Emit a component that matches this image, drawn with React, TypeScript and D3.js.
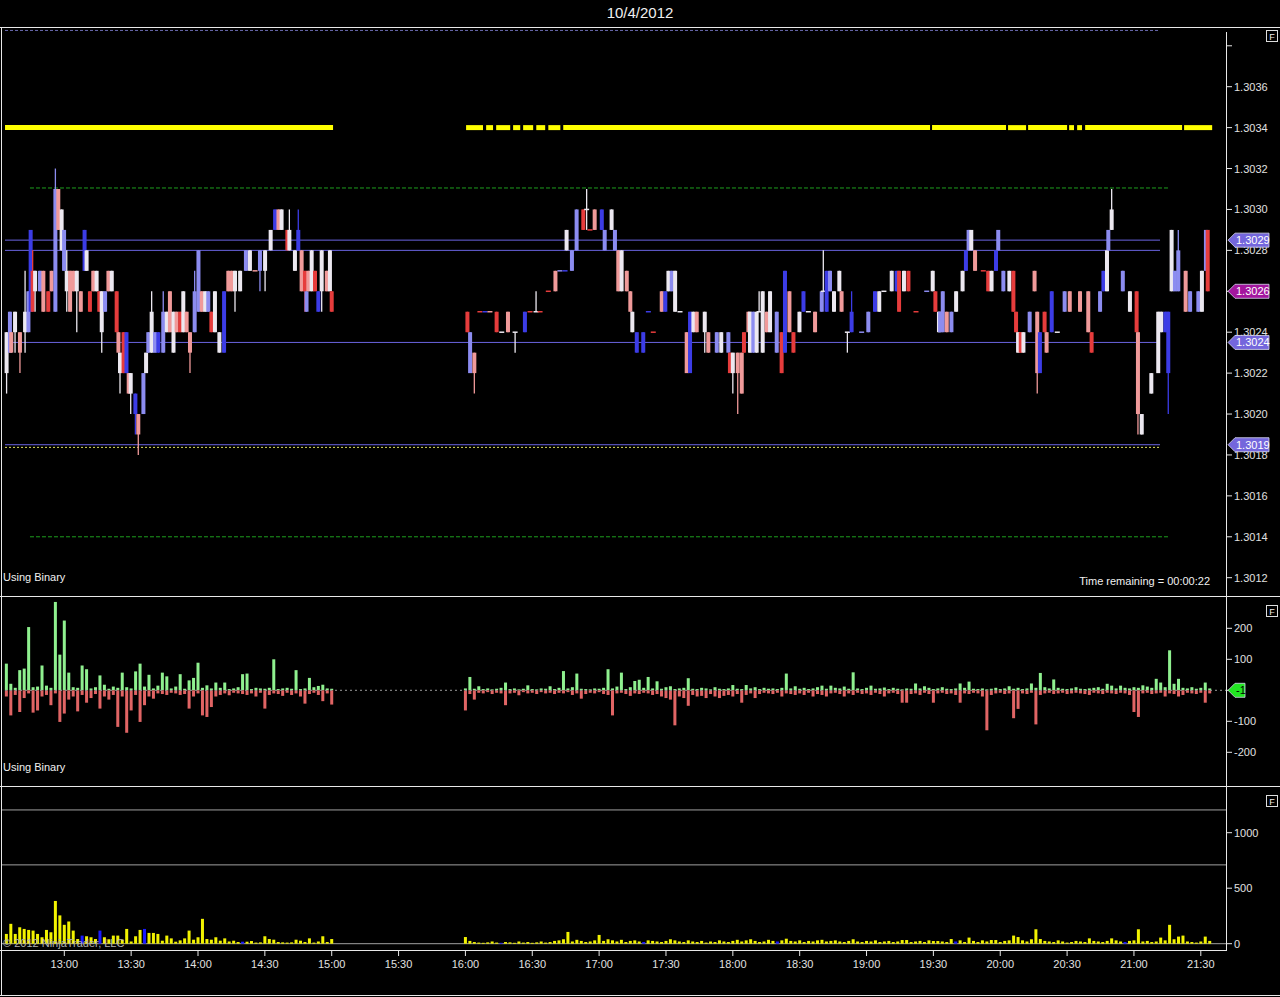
import React from "react";
import * as d3 from "d3";

// ---------- DATA ----------
// time in minutes after 12:00; prices in pips above 1.3000
const timeTickLabels = ["13:00","13:30","14:00","14:30","15:00","15:30","16:00","16:30","17:00","17:30","18:00","18:30","19:00","19:30","20:00","20:30","21:00","21:30"];
const priceTicks = [12, 14, 16, 18, 20, 22, 24, 26, 28, 30, 32, 34, 36];
const deltaTicks = [200, 100, -100, -200];
const volumeTicks = [1000, 500, 0];

// [time, bodyTop, bodyBottom, high, low, tone(-2 blue .. 2 red)]
const leftBars: number[][] = [
  [34.1,24,22,24,21,0],[35.6,25,23,25,23,-1],[36.2,24,23,24,23,1],[37.9,25,24,25,23,0],[40.1,24,23,24,22,1],
  [42.4,25,24,27,23,0],[43.9,26,24,26,24,-1],[44.9,29,25,29,25,-2],[45.8,27,25,28,25,2],[46.9,27,26,27,25,0],
  [49.1,27,26,27,26,-1],[50.6,27,25,27,25,1],[52.8,26,25,26,25,2],[54.3,27,26,27,26,1],[56.0,31,25,32,25,-1],
  [57.3,31,29,31,29,1],[58.8,30,28,30,28,0],[59.9,29,27,29,27,-1],[61.1,27,26,28,25,0],[62.6,27,25,27,25,1],
  [64.1,27,26,27,26,1],[65.6,27,26,27,24,0],[67.4,26,25,26,25,1],[69.1,29,27,29,27,-2],[70.0,28,27,28,27,0],
  [71.5,26,25,26,25,2],[73.0,27,26,27,26,1],[74.5,27,26,27,26,0],[75.7,26,25,26,25,2],[76.8,26,24,26,23,0],
  [78.3,26,25,26,25,-1],[79.8,27,26,27,26,1],[81.3,27,26,27,26,0],[83.5,26,24,26,24,2],[84.3,24,23,24,23,1],
  [85.0,23,22,23,21,0],[86.6,24,22,24,22,2],[87.9,24,22,24,22,-2],[88.9,22,21,22,21,1],[89.8,22,21,22,20,0],
  [91.9,21,20,21,19,-2],[93.2,20,19,20,18,1],[95.5,22,20,22,20,-1],[96.7,23,22,23,22,0],[97.7,24,23,24,23,-1],
  [99.2,25,23,26,23,0],[100.7,24,23,24,23,-1],[102.2,24,23,24,23,-2],[104.4,25,23,26,23,-1],[106.0,25,24,25,24,0],
  [107.4,26,24,26,24,1],[109.0,25,23,25,23,0],[110.4,25,24,25,24,1],[112.0,25,24,25,24,2],[113.4,26,24,26,24,0],
  [114.9,25,24,25,24,1],[116.4,24,23,24,22,1],[118.5,26,24,27,24,-1],[120.2,28,25,28,25,-1],[121.7,26,25,26,25,1],
  [123.2,26,25,26,25,0],[124.6,26,25,26,25,-1],[126.0,25,24,25,24,2],[127.6,26,24,26,24,0],[129.6,24,23,24,23,0],
  [131.7,26,23,26,23,-2],[133.6,27,26,27,26,1],[135.1,27,26,27,26,1],[136.6,27,26,27,25,0],[138.9,27,26,27,26,0],
  [141.5,28,27,28,27,-1],[143.3,28,27,28,27,0],[145.6,27,27,27,27,1],[147.8,28,27,28,26,-1],[150.1,28,27,28,26,0],
  [152.6,29,28,29,28,0],[154.6,30,29,30,29,-2],[156.1,30,29,30,29,1],[157.5,30,29,30,29,0],[160.1,29,28,29,28,2],
  [161.0,29,28,30,28,0],[163.5,28,27,28,27,0],[165.0,29,28,30,28,-2],[166.5,28,26,28,26,1],[168.0,27,26,27,25,2],
  [168.7,26,25,26,25,-1],[169.5,27,26,27,26,1],[171.0,28,26,28,26,0],[172.5,27,26,27,26,2],[174.0,26,25,26,25,-2],
  [175.5,28,26,28,25,0],[177.8,27,26,27,26,1],[179.2,28,26,28,26,0],[180.0,26,25,26,25,2]
];

const rightBars: number[][] = [
  [240.9,25,24,25,24,2],[242.1,24,22,24,22,-1],[244.0,23,22,23,21,1],[246.5,25,25,25,25,2],[248.8,25,25,25,25,-2],
  [251.0,25,25,25,25,1],[254.0,25,24,25,24,2],[256.3,24,24,24,24,0],[259.1,25,24,25,24,1],[262.3,24,24,24,23,0],
  [266.7,25,24,25,24,-2],[269.0,25,25,25,25,2],[271.7,25,25,26,25,0],[273.5,25,25,25,25,2],[277.2,26,26,26,26,2],
  [280.4,27,26,27,26,1],[282.4,27,27,27,27,-1],[284.7,27,27,27,27,-2],[285.4,29,28,29,28,0],[287.8,28,27,28,27,-1],
  [289.9,30,28,30,28,-1],[292.9,30,29,30,29,2],[294.4,30,30,31,29,0],[295.9,29,29,29,29,2],[298.0,30,29,30,29,1],
  [301.2,30,29,30,29,-2],[302.5,29,28,29,28,-1],[305.6,30,29,30,29,0],[307.1,29,28,29,28,-1],[308.6,28,26,28,26,1],
  [310.1,28,26,28,26,0],[312.4,27,26,27,26,1],[314.0,26,25,26,25,1],[314.9,25,24,25,24,0],[316.9,24,23,24,23,-2],
  [319.8,24,23,24,23,-2],[322.1,25,25,25,25,-2],[324.3,24,24,24,24,2],[328.1,26,25,26,25,1],[329.7,26,25,26,25,-2],
  [331.1,27,26,27,26,0],[332.6,27,26,27,26,-1],[334.1,27,25,27,25,0],[336.3,25,25,25,25,0],[339.3,24,22,24,22,1],
  [340.8,25,22,25,22,-2],[342.3,25,24,25,24,0],[343.8,25,24,25,24,1],[347.4,25,24,25,23,0],[349.0,24,23,24,23,1],
  [352.8,24,23,24,23,-1],[354.8,24,23,24,23,0],[358.0,24,23,24,23,-1],[358.7,23,22,23,22,2],[360.0,23,22,23,21,0],
  [362.2,23,22,23,20,1],[364.0,23,21,23,21,1],[365.0,24,23,24,23,2],[367.0,25,24,25,24,1],[367.7,25,23,25,23,0],
  [369.2,25,23,25,23,-1],[370.7,25,23,25,23,0],[371.8,25,25,26,25,0],[373.4,26,23,26,23,0],[375.2,25,24,25,24,1],
  [376.7,26,24,26,24,0],[379.7,25,23,25,23,-1],[381.9,24,22,24,22,2],[383.4,27,23,27,23,-2],[385.4,26,24,26,24,1],
  [387.2,24,23,24,23,2],[389.9,25,24,25,24,0],[391.7,26,25,26,25,-2],[393.9,25,25,25,25,0],[396.9,25,24,25,24,1],
  [399.9,26,25,26,25,-1],[400.6,26,26,28,26,0],[402.1,27,25,27,25,-2],[403.6,27,26,27,26,-1],[405.4,26,25,26,25,0],
  [407.8,27,26,27,26,0],[408.8,26,25,26,25,1],[411.4,24,24,24,23,0],[413.3,25,24,26,24,-2],[417.8,24,24,24,24,-1],
  [420.8,25,24,25,24,-1],[423.8,26,25,26,25,-2],[425.7,26,25,26,25,0],[427.8,26,26,26,26,0],[431.3,27,26,27,26,0],
  [433.5,27,26,27,26,-2],[434.6,27,25,27,25,2],[436.8,27,26,27,26,0],[438.8,27,26,27,26,2],[442.2,25,25,25,25,2],
  [447.0,26,26,26,26,-1],[449.7,27,26,27,26,0],[450.9,26,25,26,25,2],[452.5,25,24,25,24,0],[453.0,25,24,25,24,-1],
  [454.2,26,24,26,24,-1],[456.0,25,24,25,24,1],[458.1,25,24,25,24,-1],[460.2,26,25,26,25,0],[463.1,27,26,27,26,0],
  [464.6,28,27,28,27,-2],[465.8,29,28,29,28,-1],[467.0,29,28,29,28,0],[468.7,28,27,28,27,1],[472.4,27,27,27,27,2],
  [474.6,27,26,27,26,2],[476.1,27,26,27,26,0],[478.1,28,27,28,27,-2],[479.1,29,28,29,28,-1],[481.4,27,26,27,26,-1],
  [484.1,27,26,27,26,0],[485.9,27,25,27,25,2],[487.1,25,24,25,24,2],[488.0,24,23,24,23,0],[489.2,24,23,24,23,2],
  [490.4,24,23,24,23,0],[493.2,25,24,25,24,-1],[495.4,27,26,27,26,1],[496.6,25,22,25,21,1],[497.8,24,22,24,22,-2],
  [499.9,25,24,25,24,2],[500.8,24,23,24,23,1],[503.1,26,24,26,24,-2],[505.6,24,24,24,24,0],[508.9,26,25,26,25,-1],
  [511.2,26,25,26,25,1],[515.8,26,25,26,25,1],[519.5,26,24,26,24,1],[521.0,24,23,24,23,2],[524.8,26,25,26,25,-1],
  [526.3,27,26,27,26,-2],[527.9,28,26,28,26,0],[528.5,29,28,29,28,-1],[530.0,30,29,31,29,0],[535.0,27,26,27,26,-1],
  [538.2,26,25,26,25,0],[541.2,26,24,26,24,2],[541.8,24,20,24,19,1],[543.5,20,19,20,19,0],[547.8,22,21,22,21,0],
  [550.9,25,22,25,22,0],[552.3,25,24,25,24,0],[554.1,25,24,25,24,-2],[555.4,25,22,25,20,-2],[556.9,29,26,29,26,0],
  [558.4,27,26,27,26,-1],[559.9,28,26,29,26,-1],[563.2,27,25,27,25,1],[565.2,26,25,26,25,-1],[568.9,26,25,26,25,-1],
  [570.5,27,25,27,25,0],[572.3,29,27,29,27,-1],[573.1,29,26,29,26,2]
];

// 2-minute bins: left session starts 12:34, right session starts 16:00
const leftBinStart = 34;
const rightBinStart = 240;
const binStep = 2;

const deltaUpLeft = [86,21,8,65,70,204,10,12,80,15, 8,285,115,225,57,10,8,80,68,6, 10,48,18,5,12,8,57,10,6,61, 86,12,50,6,15,57,45,6,12,52, 5,32,40,89,8,16,6,25,8,25, 4,6,10,52,54,4,8,6,5,8, 100,4,6,8,5,65,4,6,40,10, 14,18,6,5];
const deltaDownLeft = [20,81,15,70,25,10,72,65,20,15, 48,10,102,75,30,20,68,15,40,25, 12,59,20,30,15,118,20,137,65,15, 102,48,20,27,10,12,15,8,10,15, 12,59,20,10,81,86,54,20,15,10, 16,8,10,12,15,10,20,8,59,15, 10,12,18,8,15,10,20,43,12,8, 15,35,10,46];
const volumeLeft = [88,179,88,148,133,124,118,88,58,124, 103,385,255,170,200,118,42,73,67,58, 42,118,58,40,73,73,36,133,20,67, 124,133,97,97,88,27,73,48,18,30, 48,118,36,58,224,42,36,58,27,48, 20,27,15,18,18,24,10,12,67,42, 36,15,12,10,12,36,27,15,48,10, 20,67,15,42];
const volumeBlueLeft = [17, 21, 31, 53];

const deltaUpRight = [
  6,43,5,13,4,6,3,5,8,25, 4,6,3,5,16,4,3,6,5,13, 4,8,62,6,10,54,5,4,3,6, 5,8,68,6,12,57,4,10,30,34,
  8,43,6,29,5,10,13,4,6,8, 39,5,4,8,6,3,10,5,4,6, 17,5,4,17,6,10,4,8,5,6, 4,8,54,6,13,5,8,4,6,10,
  15,5,15,8,6,12,5,58,6,4, 8,15,5,6,9,4,8,5,3,6, 5,22,6,13,8,4,6,10,5,4, 6,22,8,28,5,4,6,3,5,8,
  4,6,13,5,8,4,6,22,8,56, 10,6,35,8,5,4,6,10,5,4, 6,8,10,5,21,15,6,15,8,6, 10,8,16,12,8,37,25,10,129,21,
  37,8,6,10,5,8,25,6
];
const deltaDownRight = [
  65,12,30,8,10,6,12,8,10,48, 10,8,16,6,10,8,12,6,10,8, 12,8,10,6,15,10,27,12,8,10, 6,12,15,81,10,8,12,18,10,12,
  8,10,15,12,20,25,30,113,20,25, 50,15,20,18,25,12,20,25,18,15, 20,12,40,15,10,25,12,8,10,12, 8,20,10,12,15,10,15,8,20,12,
  15,20,10,8,12,20,10,15,8,12, 10,15,8,12,20,10,8,12,40,40, 12,10,15,8,12,40,10,8,12,10, 15,40,10,12,8,10,20,129,15,10,
  8,12,10,90,60,10,12,8,110,15, 10,8,12,10,8,12,10,8,10,12, 15,8,10,12,8,10,12,8,10,15, 70,86,10,8,12,10,8,20,10,12,
  20,15,8,10,12,8,40,10
];
const volumeRight = [
  60,25,15,10,8,12,20,10,8,15, 12,8,20,10,15,8,12,20,10,15, 25,30,40,106,20,35,25,15,20,30, 79,25,40,30,20,35,15,25,30,20,
  15,30,25,20,15,25,40,30,20,15, 30,20,15,25,10,20,15,30,20,15, 25,35,20,30,40,25,15,20,35,25, 20,30,45,25,20,30,15,25,20,30,
  35,20,25,30,20,15,25,40,20,15, 25,20,30,15,20,25,15,20,33,33, 15,20,25,15,30,24,24,20,15,42, 20,30,15,55,25,15,30,20,33,33,
  15,25,30,73,60,30,20,40,130,42, 25,20,15,30,20,10,15,25,20,15, 48,25,20,15,25,48,30,20,15,25, 30,130,20,25,15,20,55,30,170,40,
  64,73,20,15,10,20,64,25
];
const volumeBlueRight = [8, 40, 70, 110, 148];

// horizontal levels (pips) and their time spans (minutes)
const blueLevels = [28.5, 28.0, 23.5, 18.5];
const blueLevelSpan = [33.4, 551.7];
const greenLevels = [31.05, 14.0];
const greenLevelSpan = [44.6, 556.0];
const topDottedLevel = 38.75;
const yellowDottedLevel = 18.37;
const yellowLevel = 34;
const yellowSegments = [
  [33.4,180.6],[240.3,247.9],[249.3,252.4],[253.8,260.1],[261.4,264.6],[265.9,270.4],[271.8,275.8],[277.2,282.6],
  [283.9,448.5],[449.4,482.6],[483.5,491.6],[492.5,510.0],[510.9,513.1],[514.5,516.7],[518.1,561.6],[562.5,575.1]
];
const priceFlags = [
  { p: 28.5, label: "1.3029", color: "#7466dc" },
  { p: 26.0, label: "1.3026", color: "#a3169e" },
  { p: 23.5, label: "1.3024", color: "#7466dc" },
  { p: 18.5, label: "1.3019", color: "#7466dc" },
];
const volumeGuideLevels = [1205, 710];

const toneColors = ["#3c3ce6", "#8c8cf0", "#ece8f0", "#f09a9a", "#e63c3c"];

const FONT = '"Liberation Sans", Arial, Helvetica, sans-serif';

export default function App() {
  const W = 1280, H = 997;
  const axisX = 1226;
  const x = d3.scaleLinear().domain([60, 570]).range([64.3, 1200.8]);
  const yP = d3.scaleLinear().domain([12, 36]).range([577.7, 86.7]);
  const yD = d3.scaleLinear().domain([-200, 200]).range([752.3, 628.3]);
  const yV = d3.scaleLinear().domain([0, 1000]).range([943.7, 832.7]);

  const tickMinutes = timeTickLabels.map((s) => {
    const [h, m] = s.split(":").map(Number);
    return (h - 12) * 60 + m;
  });

  const renderBar = (b: number[], i: number, key: string) => {
    const [t, top, bot, hi, lo, tone] = b;
    const cx = x(t);
    const col = toneColors[tone + 2];
    const els: any[] = [];
    if (hi !== lo) {
      els.push(<line key={key + "w" + i} x1={cx} x2={cx} y1={yP(hi)} y2={yP(lo)} stroke={col} strokeWidth={1.3} />);
    }
    if (top === bot) {
      els.push(<line key={key + "d" + i} x1={cx - 2.5} x2={cx + 2.5} y1={yP(top)} y2={yP(top)} stroke={col} strokeWidth={1.5} />);
    } else {
      els.push(<rect key={key + "b" + i} x={cx - 2} width={4} y={yP(top)} height={yP(bot) - yP(top)} fill={col} />);
    }
    return els;
  };

  const binBars = (vals: number[], start: number, scale: any, sign: number, color: string, blue: number[] | null, key: string) =>
    vals.map((v, k) => {
      const cx = x(start + k * binStep);
      const y0 = scale(0);
      const y1 = scale(sign * v);
      const col = blue && blue.includes(k) ? "#1a1aff" : color;
      return <rect key={key + k} x={cx - 1.5} width={3} y={Math.min(y0, y1)} height={Math.abs(y1 - y0)} fill={col} />;
    });

  const flag = (yy: number, label: string, fill: string, textFill: string, w: number, key: string) => (
    <g key={key}>
      <path d={`M${axisX + 2},${yy} L${axisX + 9},${yy - 7} L${axisX + 9 + w},${yy - 7} L${axisX + 9 + w},${yy + 7} L${axisX + 9},${yy + 7} Z`} fill={fill} stroke="#d8d8f0" strokeWidth={0.8} />
      <text x={axisX + 10} y={yy + 4} fontSize={11} fill={textFill} fontFamily={FONT}>{label}</text>
    </g>
  );

  const fBox = (yy: number, key: string) => (
    <g key={key}>
      <rect x={1266.5} y={yy} width={11} height={11} fill="#000" stroke="#ddd" strokeWidth={1} />
      <text x={1272} y={yy + 9} fontSize={9} fill="#eee" textAnchor="middle" fontFamily={FONT}>F</text>
    </g>
  );

  return (
    <svg width={W} height={H} style={{ position: "absolute", left: 0, top: 0, background: "#000" }} xmlns="http://www.w3.org/2000/svg">
      <defs>
        <clipPath id="mainClip"><rect x={2} y={28} width={axisX - 2} height={567} /></clipPath>
        <clipPath id="midClip"><rect x={2} y={597} width={axisX - 2} height={188} /></clipPath>
        <clipPath id="volClip"><rect x={2} y={787} width={axisX - 2} height={163} /></clipPath>
      </defs>
      <rect x={0} y={0} width={W} height={H} fill="#000" />
      <text x={640} y={18} fontSize={15} fill="#f0f0f0" textAnchor="middle" fontFamily={FONT}>10/4/2012</text>

      {/* frame lines */}
      <line x1={0} x2={W} y1={27.5} y2={27.5} stroke="#e8e8e8" strokeWidth={1} />
      <line x1={0} x2={W} y1={596.5} y2={596.5} stroke="#e8e8e8" strokeWidth={1} />
      <line x1={0} x2={W} y1={786.5} y2={786.5} stroke="#e8e8e8" strokeWidth={1} />
      <line x1={0} x2={axisX} y1={950.5} y2={950.5} stroke="#e8e8e8" strokeWidth={1} />
      <line x1={0} x2={W} y1={995.5} y2={995.5} stroke="#e8e8e8" strokeWidth={1} />
      <line x1={1.5} x2={1.5} y1={27} y2={996} stroke="#e8e8e8" strokeWidth={1} />
      <line x1={axisX + 0.5} x2={axisX + 0.5} y1={32} y2={951} stroke="#e8e8e8" strokeWidth={1} />

      {/* MAIN PRICE PANEL */}
      <g clipPath="url(#mainClip)">
        <line x1={x(33.4)} x2={x(551.7)} y1={yP(topDottedLevel)} y2={yP(topDottedLevel)} stroke="#6a6ab0" strokeWidth={1} strokeDasharray="3,2" />
        {yellowSegments.map((s, i) => (
          <line key={"ys" + i} x1={x(s[0])} x2={x(s[1])} y1={yP(yellowLevel)} y2={yP(yellowLevel)} stroke="#ffff00" strokeWidth={5} />
        ))}
        {greenLevels.map((g, i) => (
          <line key={"gl" + i} x1={x(greenLevelSpan[0])} x2={x(greenLevelSpan[1])} y1={yP(g)} y2={yP(g)} stroke="#1e9e1e" strokeWidth={1} strokeDasharray="4,2" />
        ))}
        {blueLevels.map((b, i) => (
          <line key={"bl" + i} x1={x(blueLevelSpan[0])} x2={x(blueLevelSpan[1])} y1={yP(b)} y2={yP(b)} stroke="#6a64e0" strokeWidth={1} />
        ))}
        <line x1={x(blueLevelSpan[0])} x2={x(blueLevelSpan[1])} y1={yP(yellowDottedLevel)} y2={yP(yellowDottedLevel)} stroke="#e0e060" strokeWidth={1} strokeDasharray="2,2" />
        {leftBars.map((b, i) => renderBar(b, i, "L"))}
        {rightBars.map((b, i) => renderBar(b, i, "R"))}
      </g>
      {/* price axis */}
      <line x1={axisX} x2={axisX + 6} y1={yP(38)} y2={yP(38)} stroke="#e8e8e8" />
      {priceTicks.map((p) => (
        <g key={"pt" + p}>
          <line x1={axisX} x2={axisX + 6} y1={yP(p)} y2={yP(p)} stroke="#e8e8e8" />
          <text x={axisX + 8} y={yP(p) + 4} fontSize={11} fill="#e0e0e0" fontFamily={FONT}>{(1.3 + p / 10000).toFixed(4)}</text>
        </g>
      ))}
      {priceFlags.map((f, i) => flag(yP(f.p), f.label, f.color, "#ffffff", 34, "fl" + i))}
      <text x={3} y={581} fontSize={11} fill="#f0f0f0" fontFamily={FONT}>Using Binary</text>
      <text x={1210} y={585} fontSize={11} fill="#f0f0f0" textAnchor="end" fontFamily={FONT}>Time remaining = 00:00:22</text>
      {fBox(30.5, "f1")}

      {/* DELTA PANEL */}
      <g clipPath="url(#midClip)">
        {binBars(deltaUpLeft, leftBinStart, yD, 1, "#8ff08f", null, "ul")}
        {binBars(deltaUpRight, rightBinStart, yD, 1, "#8ff08f", null, "ur")}
        {binBars(deltaDownLeft, leftBinStart, yD, -1, "#e06464", null, "dl")}
        {binBars(deltaDownRight, rightBinStart, yD, -1, "#e06464", null, "dr")}
        <line x1={0} x2={axisX} y1={yD(0)} y2={yD(0)} stroke="#9a9a9a" strokeWidth={1} strokeDasharray="2,3" />
      </g>
      {deltaTicks.map((v) => (
        <g key={"dt" + v}>
          <line x1={axisX} x2={axisX + 6} y1={yD(v)} y2={yD(v)} stroke="#e8e8e8" />
          <text x={axisX + 8} y={yD(v) + 4} fontSize={11} fill="#e0e0e0" fontFamily={FONT}>{v}</text>
        </g>
      ))}
      <line x1={axisX} x2={axisX + 3} y1={yD(0)} y2={yD(0)} stroke="#e8e8e8" />
      {flag(yD(0), "-1", "#22e622", "#000000", 10, "dflag")}
      <text x={3} y={771} fontSize={11} fill="#f0f0f0" fontFamily={FONT}>Using Binary</text>
      {fBox(605.5, "f2")}

      {/* VOLUME PANEL */}
      <g clipPath="url(#volClip)">
        {volumeGuideLevels.map((v, i) => (
          <line key={"vg" + i} x1={0} x2={axisX} y1={yV(v)} y2={yV(v)} stroke="#a0a0a0" strokeWidth={1} />
        ))}
        <line x1={0} x2={axisX} y1={yV(0)} y2={yV(0)} stroke="#a0a0a0" strokeWidth={1} />
        {binBars(volumeLeft, leftBinStart, yV, 1, "#f2f200", volumeBlueLeft, "vl")}
        {binBars(volumeRight, rightBinStart, yV, 1, "#f2f200", volumeBlueRight, "vr")}
      </g>
      {volumeTicks.map((v) => (
        <g key={"vt" + v}>
          <line x1={axisX} x2={axisX + 6} y1={yV(v)} y2={yV(v)} stroke="#e8e8e8" />
          <text x={axisX + 8} y={yV(v) + 4} fontSize={11} fill="#e0e0e0" fontFamily={FONT}>{v}</text>
        </g>
      ))}
      {fBox(795.5, "f3")}
      <text x={3} y={947} fontSize={11} fill="#b0b0b0" fontFamily={FONT}>© 2012 NinjaTrader, LLC</text>

      {/* TIME AXIS */}
      {tickMinutes.map((m, i) => (
        <g key={"tt" + i}>
          <line x1={x(m)} x2={x(m)} y1={951} y2={956} stroke="#e8e8e8" />
          <text x={x(m)} y={968} fontSize={11} fill="#e0e0e0" textAnchor="middle" fontFamily={FONT}>{timeTickLabels[i]}</text>
        </g>
      ))}
    </svg>
  );
}
